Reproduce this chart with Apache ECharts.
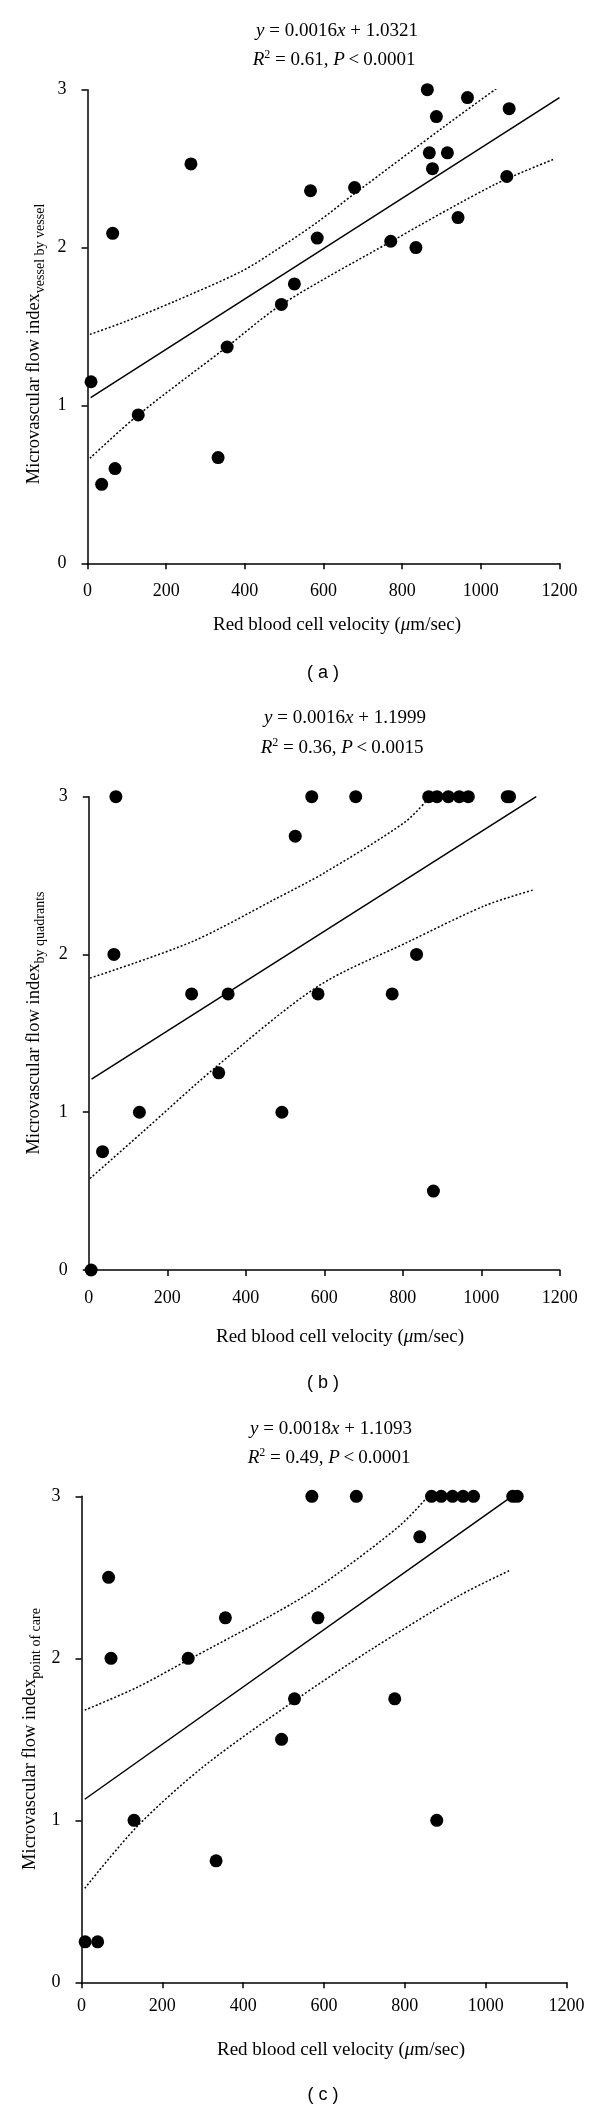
<!DOCTYPE html>
<html><head><meta charset="utf-8">
<script src="https://cdn.jsdelivr.net/npm/echarts@6/dist/echarts.min.js"></script>
<style>html,body{margin:0;padding:0;background:#fff}#c{width:600px;height:2111px}</style>
</head><body><div id="c"></div>
<script>
// ---------- data ----------
const xTicks = [0, 200, 400, 600, 800, 1000, 1200];
const yTicks = [0, 1, 2, 3];

// (a) vessel by vessel
const velA = [864, 966, 887, 1072, 263, 869, 915, 877, 1066, 567, 679, 942, 64, 584, 771, 835, 526, 493, 355, 9, 129, 332, 70, 36];
const mfiA = [3.00, 2.95, 2.83, 2.88, 2.53, 2.60, 2.60, 2.50, 2.45, 2.36, 2.38, 2.19, 2.09, 2.06, 2.04, 2.00, 1.77, 1.64, 1.37, 1.15, 0.94, 0.67, 0.60, 0.50];
const regA = [[8, 1.05], [1200, 2.95]];
const upperA = [[6, 1.45], [95, 1.53], [222, 1.66], [392, 1.85], [477, 1.98], [584, 2.16], [678, 2.34], [909, 2.77], [1041, 3.01]];
const lowerA = [[6, 0.665], [129, 0.94], [354, 1.37], [494, 1.64], [773, 2.04], [1036, 2.40], [1186, 2.56]];

// (b) by quadrants
const velB = [69, 568, 680, 866, 887, 916, 944, 967, 1066, 1072, 526, 64, 835, 262, 355, 584, 773, 331, 129, 492, 35, 878, 6];
const mfiB = [3, 3, 3, 3, 3, 3, 3, 3, 3, 3, 2.75, 2, 2, 1.75, 1.75, 1.75, 1.75, 1.25, 1, 1, 0.75, 0.5, 0];
const regB = [[7, 1.21], [1140, 3.0]];
const upperB = [[3, 1.85], [262, 2.08], [474, 2.35], [602, 2.52], [806, 2.84], [866, 2.99]];
const lowerB = [[3, 0.58], [135, 0.87], [330, 1.30], [585, 1.80], [814, 2.08], [1010, 2.31], [1134, 2.41]];

// (c) point of care
const velC = [570, 680, 866, 890, 918, 944, 970, 1067, 1078, 837, 67, 356, 585, 73, 264, 527, 775, 495, 130, 879, 333, 9, 40];
const mfiC = [3, 3, 3, 3, 3, 3, 3, 3, 3, 2.75, 2.5, 2.25, 2.25, 2, 2, 1.75, 1.75, 1.5, 1, 1, 0.75, 0.25, 0.25];
const regC = [[8, 1.13], [1065, 3.0]];
const upperC = [[8, 1.68], [137, 1.82], [264, 1.99], [466, 2.26], [549, 2.38], [632, 2.52], [788, 2.82], [854, 2.99]];
const lowerC = [[8, 0.58], [137, 0.96], [301, 1.33], [528, 1.74], [714, 2.05], [937, 2.39], [1062, 2.545]];

const eqA = ['0.0016', '1.0321', '0.61', '0.0001'];
const eqB = ['0.0016', '1.1999', '0.36', '0.0015'];
const eqC = ['0.0018', '1.1093', '0.49', '0.0001'];
const subs = ['vessel by vessel', 'by quadrants', 'point of care'];
const panelTags = ['( a )', '( b )', '( c )'];

// ---------- layout ----------
const SERIF = '"Liberation Serif", "Times New Roman", serif';
const panels = [
  {grid: {left: 87.5, top: 89.7, width: 472, height: 473.6}, t1: [337, 31], t2: [334, 60], xn: [337, 625], yn: [34, 344], tag: [323, 673], xm: 19, vel: velA, mfi: mfiA, reg: regA, up: upperA, lo: lowerA, eq: eqA},
  {grid: {left: 88.8, top: 796.7, width: 471, height: 473.3}, t1: [345, 718], t2: [342, 748], xn: [340, 1337], yn: [34, 1023], tag: [323, 1383], xm: 19, vel: velB, mfi: mfiB, reg: regB, up: upperB, lo: lowerB, eq: eqB},
  {grid: {left: 81.5, top: 1496.3, width: 485, height: 486}, t1: [331, 1429], t2: [329, 1458], xn: [341, 2050], yn: [30, 1739], tag: [323, 2095], xm: 15, vel: velC, mfi: mfiC, reg: regC, up: upperC, lo: lowerC, eq: eqC}
];

const grids = [], xAxes = [], yAxes = [], series = [], graphics = [];
const axisLine = {show: true, onZero: false, lineStyle: {color: '#000', width: 1.5}};
const axisTick = {show: true, length: 6, lineStyle: {color: '#000', width: 1.5}};
const richTitle = {
  i: {fontFamily: SERIF, fontSize: 19, fontStyle: 'italic', fill: '#000', color: '#000'},
  n: {fontFamily: SERIF, fontSize: 19, fill: '#000', color: '#000'},
  sup: {fontFamily: SERIF, fontSize: 12, verticalAlign: 'top', color: '#000', fill: '#000', lineHeight: 22}
};
const plain = v => String(v);

panels.forEach((p, i) => {
  grids.push(Object.assign({containLabel: false}, p.grid));
  xAxes.push({
    gridIndex: i, type: 'value', min: xTicks[0], max: xTicks[xTicks.length - 1], interval: xTicks[1] - xTicks[0],
    axisLine, axisTick, splitLine: {show: false},
    axisLabel: {color: '#000', fontFamily: SERIF, fontSize: 18, margin: p.xm, showMaxLabel: true, showMinLabel: true, formatter: plain}
  });
  yAxes.push({
    gridIndex: i, type: 'value', min: yTicks[0], max: yTicks[yTicks.length - 1], interval: yTicks[1] - yTicks[0],
    axisLine, axisTick, splitLine: {show: false},
    axisLabel: {color: '#000', fontFamily: SERIF, fontSize: 18, margin: 21, formatter: plain}
  });
  series.push({
    type: 'scatter', xAxisIndex: i, yAxisIndex: i, symbol: 'circle', symbolSize: 13,
    itemStyle: {color: '#000', opacity: 1}, data: p.vel.map((v, k) => [v, p.mfi[k]]), z: 5
  });
  series.push({
    type: 'line', xAxisIndex: i, yAxisIndex: i, data: p.reg, symbol: 'none',
    lineStyle: {color: '#000', width: 1.5, type: 'solid'}
  });
  [p.up, p.lo].forEach(b => series.push({
    type: 'line', xAxisIndex: i, yAxisIndex: i, data: b, symbol: 'none', smooth: 0.3,
    lineStyle: {color: '#000', width: 1.5, type: [2, 2]}
  }));

  graphics.push({
    type: 'text', x: p.t1[0], y: p.t1[1],
    style: {text: '{i|y}{n| = ' + p.eq[0] + '}{i|x}{n| + ' + p.eq[1] + '}', rich: richTitle,
      align: 'center', verticalAlign: 'middle', textAlign: 'center', textVerticalAlign: 'middle',
      font: '19px ' + SERIF, fill: '#000'}
  });
  graphics.push({
    type: 'text', x: p.t2[0], y: p.t2[1],
    style: {text: '{i|R}{sup|2}{n| = ' + p.eq[2] + ', }{i|P}{n|\u2009<\u2009' + p.eq[3] + '}', rich: richTitle,
      align: 'center', verticalAlign: 'middle', textAlign: 'center', textVerticalAlign: 'middle',
      font: '19px ' + SERIF, fill: '#000'}
  });
  graphics.push({
    type: 'text', x: p.xn[0], y: p.xn[1],
    style: {text: '{n|Red blood cell velocity (}{i|\u03bc}{n|m/sec)}', rich: {
        n: {fontFamily: SERIF, fontSize: 19, fill: '#000', color: '#000'},
        i: {fontFamily: SERIF, fontSize: 19, fontStyle: 'italic', fill: '#000', color: '#000'}},
      align: 'center', verticalAlign: 'middle', textAlign: 'center', textVerticalAlign: 'middle',
      font: '19px ' + SERIF, fill: '#000'}
  });
  graphics.push({
    type: 'text', x: p.yn[0], y: p.yn[1], rotation: Math.PI / 2,
    style: {text: '{m|Microvascular flow index}{s|' + subs[i] + '}', rich: {
        m: {fontFamily: SERIF, fontSize: 18.5, lineHeight: 26, verticalAlign: 'middle', fill: '#000', color: '#000'},
        s: {fontFamily: SERIF, fontSize: 14, lineHeight: 26, verticalAlign: 'bottom', fill: '#000', color: '#000'}},
      align: 'center', verticalAlign: 'middle', textAlign: 'center', textVerticalAlign: 'middle',
      font: '18px ' + SERIF, fill: '#000'}
  });
  graphics.push({
    type: 'text', x: p.tag[0], y: p.tag[1],
    style: {text: panelTags[i], font: '18px "Liberation Sans", Arial, sans-serif', fill: '#000',
      align: 'center', verticalAlign: 'middle', textAlign: 'center', textVerticalAlign: 'middle'}
  });
});

const chart = echarts.init(document.getElementById('c'), null, {renderer: 'canvas'});
chart.setOption({
  animation: false,
  backgroundColor: '#fff',
  grid: grids, xAxis: xAxes, yAxis: yAxes, series: series, graphic: graphics
});
</script>
</body></html>
